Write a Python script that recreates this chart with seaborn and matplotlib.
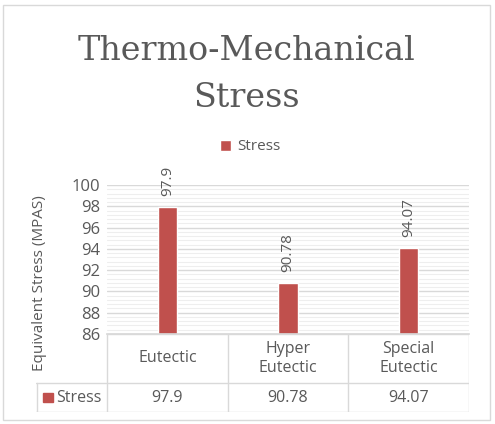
import matplotlib
matplotlib.use("Agg")
import matplotlib.pyplot as plt
import matplotlib.patches as mpatches
from matplotlib.ticker import MultipleLocator
import seaborn as sns
import pandas as pd

categories = ["Eutectic", "Hyper\nEutectic", "Special\nEutectic"]
stress = [97.9, 90.78, 94.07]
value_labels = ["97.9", "90.78", "94.07"]
series_name = "Stress"
y_ticks = [86, 88, 90, 92, 94, 96, 98, 100]
title_lines = ["Thermo-Mechanical", "Stress"]

df = pd.DataFrame({"Category": categories, "Stress": stress, "Series": [series_name] * 3})

sns.set_theme(style="white")
plt.rcParams["font.family"] = ["Open Sans", "DejaVu Sans"]

W, H = 495, 424
fig = plt.figure(figsize=(W / 100, H / 100), dpi=100)
gray = "#595959"
line = "#D9D9D9"
red = "#C0504D"

def fx(px):
    return px / W

def fy(py):
    return 1 - py / H

# outer border
fig.patches.append(mpatches.Rectangle((fx(3), fy(420)), fx(490) - fx(3), fy(5) - fy(420),
                                      transform=fig.transFigure, fill=False, edgecolor=line, lw=1))

L, R, T, B = 107, 469, 185, 334
ax = fig.add_axes([fx(L), fy(B), fx(R) - fx(L), fy(T) - fy(B)])
sns.barplot(data=df, x="Category", y="Stress", hue="Series", palette=[red], width=0.16,
            dodge=False, saturation=1, ax=ax, legend=True)
ax.set_xlim(-0.5, 2.5)
ax.set_ylim(86, 100)
ax.yaxis.set_major_locator(MultipleLocator(2))
ax.yaxis.set_minor_locator(MultipleLocator(0.4))
ax.grid(which="major", axis="y", color=line, lw=1)
ax.grid(which="minor", axis="y", color="#EEEEEE", lw=0.8)
ax.set_axisbelow(True)
for s in ["left", "right", "top"]:
    ax.spines[s].set_visible(False)
ax.spines["bottom"].set_color(line)
ax.set_xticks([])
ax.set_xlabel("")
ax.set_ylabel("")
ax.set_yticks(y_ticks)
ax.tick_params(axis="y", length=0, labelsize=12, labelcolor=gray, pad=5)

for i, (v, lab) in enumerate(zip(stress, value_labels)):
    ax.annotate(lab, (i, v), xytext=(0, 8), textcoords="offset points", rotation=90,
                ha="center", va="bottom", fontsize=11, color=gray, annotation_clip=False)

handles, labels = ax.get_legend_handles_labels()
ax.get_legend().remove()
fig.legend(handles, labels, loc="center", bbox_to_anchor=(fx(250), fy(147)), frameon=False,
           fontsize=11, labelcolor=gray, handlelength=0.7, handleheight=0.7, handletextpad=0.4)

# data table
TL = 36
tb = fig.add_axes([fx(TL), fy(412), fx(R) - fx(TL), fy(B) - fy(412)])
key_w = (L - TL) / ((R - L) / 3)
tb.set_xlim(-0.5 - key_w, 2.5)
tb.set_ylim(78, 0)
tb.axis("off")
lkw = dict(color=line, lw=1)
tb.plot([-0.5, 2.5], [0, 0], **lkw)
tb.plot([-0.5 - key_w, 2.5], [49, 49], **lkw)
tb.plot([-0.5 - key_w, 2.5], [77.5, 77.5], **lkw)
tb.plot([-0.5 - key_w + 0.005, -0.5 - key_w + 0.005], [49, 77.5], **lkw)
for xv in [-0.5, 0.5, 1.5, 2.5]:
    tb.plot([xv, xv], [0, 77.5], **lkw)
for i, (c, lab) in enumerate(zip(categories, value_labels)):
    tb.text(i, 24.5, c, ha="center", va="center", fontsize=11.5, color=gray, linespacing=1.25)
    tb.text(i, 63.5, lab, ha="center", va="center", fontsize=11.5, color=gray)
tb.add_patch(mpatches.Rectangle((-0.5 - key_w + 0.06, 59), 0.08, 9, color=red))
tb.text(-0.5 - key_w + 0.17, 63.5, series_name, ha="left", va="center", fontsize=11.5, color=gray)

fig.text(fx(40), fy(283), "Equivalent Stress (MPAS)", rotation=90, ha="center", va="center",
         fontsize=11, color=gray)
for txt, base in zip(title_lines, [60, 107]):
    fig.text(fx(247), fy(base), txt, ha="center", va="baseline",
             fontsize=24, color=gray, family=["DejaVu Serif"])

fig.savefig("out.png", dpi=100)
